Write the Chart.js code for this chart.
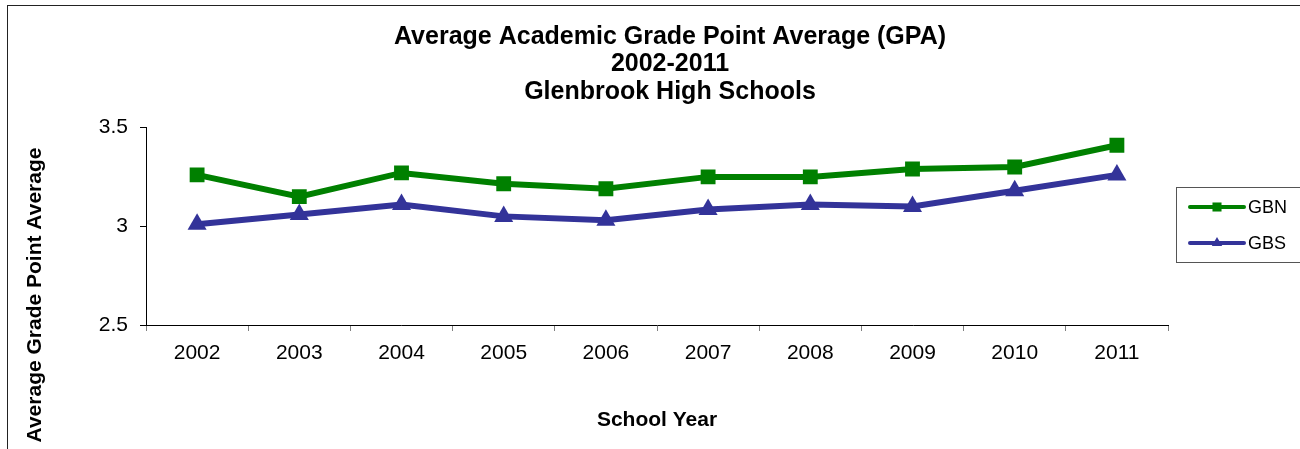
<!DOCTYPE html>
<html>
<head>
<meta charset="utf-8">
<title>Average Academic GPA 2002-2011</title>
<script src="https://cdn.jsdelivr.net/npm/chart.js@4.4.1/dist/chart.umd.min.js"></script>
<style>
  html, body { margin: 0; padding: 0; background: #fff; }
  body { width: 1300px; height: 449px; overflow: hidden; position: relative; }
  #wrap { position: absolute; left: 0; top: 0; width: 1333px; height: 449px; }
  #frame {
    position: absolute; left: 7px; top: 5px; width: 1400px; height: 500px;
    border: 1px solid #222; pointer-events: none;
  }
</style>
</head>
<body>
<div id="wrap"><canvas id="gpaChart" width="1333" height="449"></canvas></div>
<div id="frame"></div>
<script>
// 数据
const years = ['2002', '2003', '2004', '2005', '2006', '2007', '2008', '2009', '2010', '2011'];
const gbnValues = [3.26, 3.15, 3.27, 3.215, 3.19, 3.25, 3.25, 3.29, 3.30, 3.41];
const gbsValues = [3.01, 3.06, 3.11, 3.05, 3.03, 3.085, 3.11, 3.10, 3.18, 3.26];
const yTicks = [2.5, 3, 3.5];

const FONT = "'Liberation Sans', Arial, sans-serif";

// 纵轴标题（位置偏下，单独绘制）
const yTitlePlugin = {
  id: 'yTitle',
  afterDraw(chart) {
    const ctx = chart.ctx;
    ctx.save();
    ctx.translate(35, 295);
    ctx.rotate(-Math.PI / 2);
    ctx.font = 'bold 21px ' + FONT;
    ctx.fillStyle = '#000';
    ctx.textAlign = 'center';
    ctx.textBaseline = 'middle';
    ctx.fillText('Average Grade Point Average', 0, 0);
    ctx.restore();
  }
};

// 右侧图例（带边框）
const sideLegendPlugin = {
  id: 'sideLegend',
  afterDraw(chart) {
    const ctx = chart.ctx;
    const left = chart.chartArea.right + 8;
    const top = 187;
    ctx.save();
    ctx.strokeStyle = '#555';
    ctx.lineWidth = 1;
    ctx.strokeRect(left + 0.5, top + 0.5, 200, 75);
    chart.data.datasets.forEach((ds, i) => {
      const y = top + 20 + i * 36;
      ctx.strokeStyle = ds.borderColor;
      ctx.lineWidth = 4;
      ctx.lineCap = 'round';
      ctx.beginPath();
      ctx.moveTo(left + 14, y);
      ctx.lineTo(left + 68, y);
      ctx.stroke();
      ctx.fillStyle = ds.borderColor;
      Chart.helpers.drawPoint(ctx, {
        pointStyle: ds.pointStyle,
        radius: ds.pointStyle === 'rect' ? 6.4 : 6,
        rotation: 0,
        borderWidth: 0
      }, left + 41, y);
      ctx.fillStyle = '#000';
      ctx.font = '18px ' + FONT;
      ctx.textAlign = 'left';
      ctx.textBaseline = 'middle';
      ctx.fillText(ds.label, left + 72, y + 1);
    });
    ctx.restore();
  }
};

function initChart() {
  const ctx = document.getElementById('gpaChart').getContext('2d');

  window.gpaChart = new Chart(ctx, {
    type: 'line',
    data: {
      labels: years,
      datasets: [{
        label: 'GBN',
        data: gbnValues,
        borderColor: '#008000',
        backgroundColor: '#008000',
        borderWidth: 6,
        pointStyle: 'rect',
        pointRadius: 10.5,
        pointBorderWidth: 0,
        pointBackgroundColor: '#008000',
        tension: 0
      }, {
        label: 'GBS',
        data: gbsValues,
        borderColor: '#333399',
        backgroundColor: '#333399',
        borderWidth: 6,
        pointStyle: 'triangle',
        pointRadius: 11,
        pointBorderWidth: 0,
        pointBackgroundColor: '#333399',
        tension: 0
      }]
    },
    options: {
      responsive: false,
      animation: false,
      events: [],
      layout: {
        padding: { left: 7, top: 0, right: 0, bottom: 0 }
      },
      plugins: {
        legend: { display: false },
        tooltip: { enabled: false },
        title: {
          display: true,
          text: ['Average Academic Grade Point Average (GPA)', '2002-2011', 'Glenbrook High Schools'],
          color: '#000',
          font: { family: FONT, size: 25, weight: 'bold', lineHeight: 1.1 },
          padding: { top: 23, bottom: 22 }
        }
      },
      scales: {
        x: {
          offset: true,
          grid: {
            offset: true,
            drawOnChartArea: false,
            drawTicks: true,
            tickLength: 6,
            color: '#808080'
          },
          border: { color: '#000', width: 1 },
          ticks: {
            color: '#000',
            font: { family: FONT, size: 21 },
            padding: 10,
            maxRotation: 0
          },
          title: {
            display: true,
            text: 'School Year',
            color: '#000',
            font: { family: FONT, size: 21, weight: 'bold' },
            padding: { top: 0, bottom: 16 }
          },
          afterFit(scale) { scale.height = 124; }
        },
        y: {
          min: 2.5,
          max: 3.5,
          afterBuildTicks(scale) { scale.ticks = yTicks.map(v => ({ value: v })); },
          grid: {
            drawOnChartArea: false,
            drawTicks: true,
            tickLength: 6,
            color: '#000'
          },
          border: { color: '#000', width: 1 },
          ticks: {
            color: '#000',
            font: { family: FONT, size: 21 },
            padding: 12,
            callback: v => String(v)
          },
          afterFit(scale) { scale.width = 139; }
        },
        // 为右侧图例留出空间
        legendSpace: {
          position: 'right',
          display: true,
          grid: { display: false },
          border: { display: false },
          ticks: { display: false },
          afterFit(scale) { scale.width = 165; }
        }
      }
    },
    plugins: [yTitlePlugin, sideLegendPlugin]
  });
}

window.addEventListener('DOMContentLoaded', initChart);
</script>
</body>
</html>
